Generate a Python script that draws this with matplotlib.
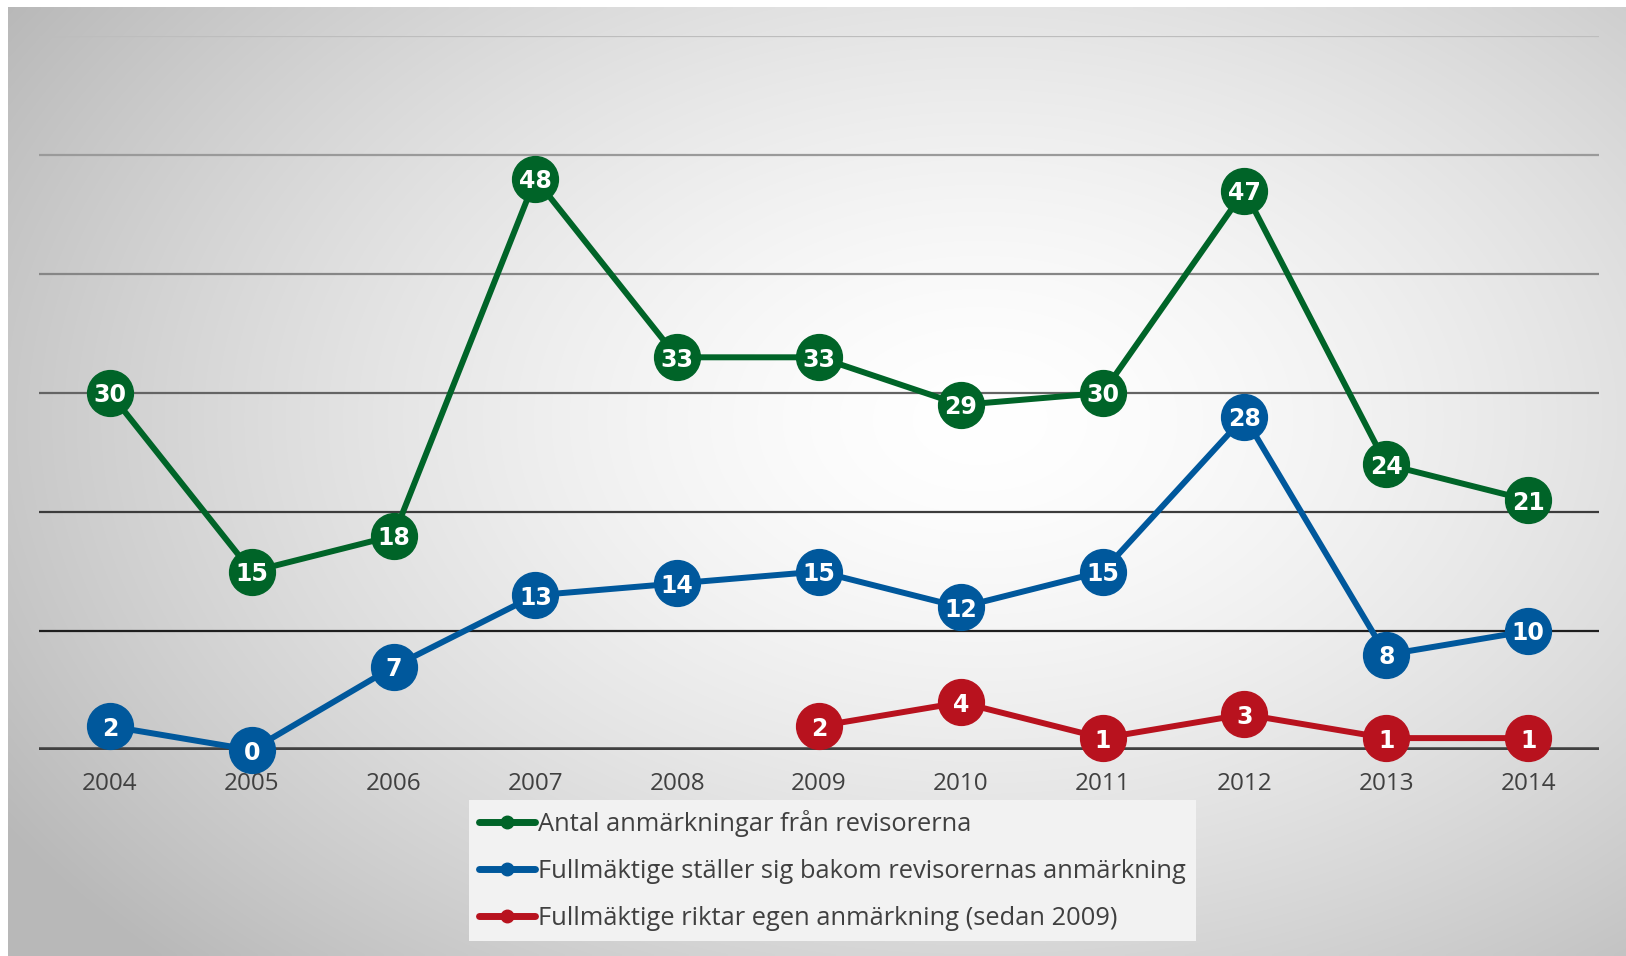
import numpy as np
import matplotlib
matplotlib.use("Agg")
import matplotlib.pyplot as plt

years = ["2004", "2005", "2006", "2007", "2008", "2009", "2010", "2011", "2012", "2013", "2014"]
antal = [30, 15, 18, 48, 33, 33, 29, 30, 47, 24, 21]
bakom = [2, 0, 7, 13, 14, 15, 12, 15, 28, 8, 10]
egen = [None, None, None, None, None, 2, 4, 1, 3, 1, 1]

labels = ["Antal anmärkningar från revisorerna",
          "Fullmäktige ställer sig bakom revisorernas anmärkning",
          "Fullmäktige riktar egen anmärkning (sedan 2009)"]
colors = ["#006428", "#00589c", "#b8121e"]

grid_vals = [0, 10, 20, 30, 40, 50, 60]
grid_cols = ["#404040", "#1e1e1e", "#3c3c3c", "#646464", "#868686", "#9a9a9a", "#bdbdbd"]

W, H = 1626, 956
fig = plt.figure(figsize=(W / 100, H / 100), dpi=100, facecolor="white")

# background radial gradient
bg = fig.add_axes([8 / W, 0, 1 - 8 / W, 1 - 7 / H])
bg.axis("off")
xx, yy = np.meshgrid(np.linspace(8, W, 400), np.linspace(7, H, 250))
d = np.sqrt(((xx - 980) / 1050) ** 2 + ((yy - 420) / 700) ** 2)
g = 1.0 - 0.24 * np.clip(d, 0, 1.1) ** 1.5
bg.imshow(np.dstack([g, g, g]), extent=[0, 1, 0, 1], aspect="auto", interpolation="bilinear")
bg.set_xlim(0, 1)
bg.set_ylim(0, 1)

ax = fig.add_axes([39 / W, 1 - 750 / H, 1560 / W, 714 / H])
ax.set_facecolor("none")
for s in ax.spines.values():
    s.set_visible(False)

x = np.arange(len(years))
ax.set_xlim(-0.5, len(years) - 0.5)
ax.set_ylim(0, 60)

for v, c in zip(grid_vals, grid_cols):
    ax.axhline(v, color=c, lw=4 if v == 0 else 1.6, zorder=1)

for series, col, lab in zip([antal, bakom, egen], colors, labels):
    xs = [i for i, v in enumerate(series) if v is not None]
    ys = [v for v in series if v is not None]
    ax.plot(xs, ys, color=col, lw=4.3, zorder=3, clip_on=False, solid_capstyle="round")
    ax.plot(xs, ys, ls="none", marker="o", ms=33, color=col, zorder=4, clip_on=False)
    for xi, yi in zip(xs, ys):
        ax.text(xi, yi, str(yi), ha="center", va="center_baseline", color="white",
                fontsize=17, fontweight="bold", family="DejaVu Sans", zorder=5)
    ax.plot([], [], color=col, lw=5, marker="o", ms=9, label=lab, solid_capstyle="round")

ax.set_yticks([])
ax.set_xticks(x)
ax.set_xticklabels(years, fontsize=17.5, color="#404040", family="Open Sans")
ax.tick_params(axis="x", length=0, pad=16)

leg = ax.legend(loc="upper left", bbox_to_anchor=(469 / W, 1 - 800 / H), bbox_transform=fig.transFigure,
                frameon=True, fancybox=False, framealpha=1, facecolor="#f2f2f2", edgecolor="none",
                prop={"family": "Open Sans", "size": 18.4}, handlelength=2.2, handletextpad=0.1,
                labelspacing=0.85, borderpad=0.4, borderaxespad=0)
for t in leg.get_texts():
    t.set_color("#404040")

plt.savefig("out.png", dpi=100, facecolor="white")
plt.close()
